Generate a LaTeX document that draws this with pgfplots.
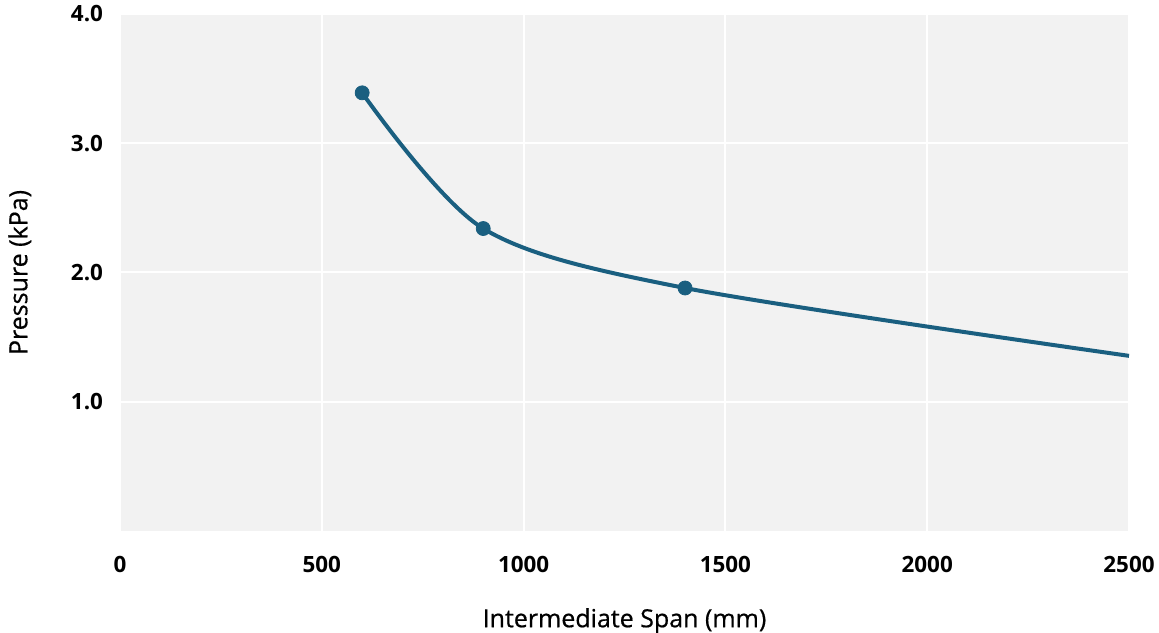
\documentclass[border=0pt]{standalone}
\usepackage{pgfplots}
\pgfplotsset{compat=1.18}
\usetikzlibrary{calc}
\usepackage{fontspec}
\setmainfont{Open Sans}
\newfontfamily\medfont{Open Sans}[FakeBold=0.6]
\definecolor{bgc}{HTML}{F2F2F2}
\definecolor{linec}{HTML}{1A5F80}
\begin{document}
\begin{tikzpicture}
\begin{axis}[
  scale only axis,
  width=504.5pt, height=258.5pt,
  xmin=0, xmax=2500, ymin=0, ymax=4,
  xtick={0,500,...,2500},
  ytick={1,2,3,4},
  axis background/.style={fill=bgc},
  axis line style={draw=none},
  major tick length=0pt,
  grid=major,
  grid style={white, line width=1pt},
  tick label style={font=\bfseries\fontsize{11.2}{13}\selectfont, text=black},
  /pgf/number format/assume math mode=true,
  xticklabel style={/pgf/number format/1000 sep={}, yshift=-9pt},
  yticklabel style={/pgf/number format/fixed, /pgf/number format/fixed zerofill,
    /pgf/number format/precision=1, xshift=-5pt},
  label style={font=\medfont\fontsize{12.5}{14}\selectfont},
  xlabel={Intermediate Span (mm)},
  ylabel={Pressure (kPa)},
  xlabel style={yshift=-11pt},
  ylabel style={yshift=13pt},
  clip=false,
]
\addplot[color=linec, line width=2pt, smooth, mark=none] coordinates {
  (600,3.39) (900,2.34) (1400,1.88) (2500,1.355)
};
\addplot[only marks, mark=*, mark size=3.5pt, color=linec] coordinates {
  (600,3.39) (900,2.34) (1400,1.88)
};
\coordinate (sw) at (rel axis cs:0,0);
\coordinate (ne) at (rel axis cs:1,1);
\end{axis}
\pgfresetboundingbox
\useasboundingbox (sw) ++(-60pt,-51pt) rectangle ($(ne)+(15pt,7pt)$);
\end{tikzpicture}
\end{document}
